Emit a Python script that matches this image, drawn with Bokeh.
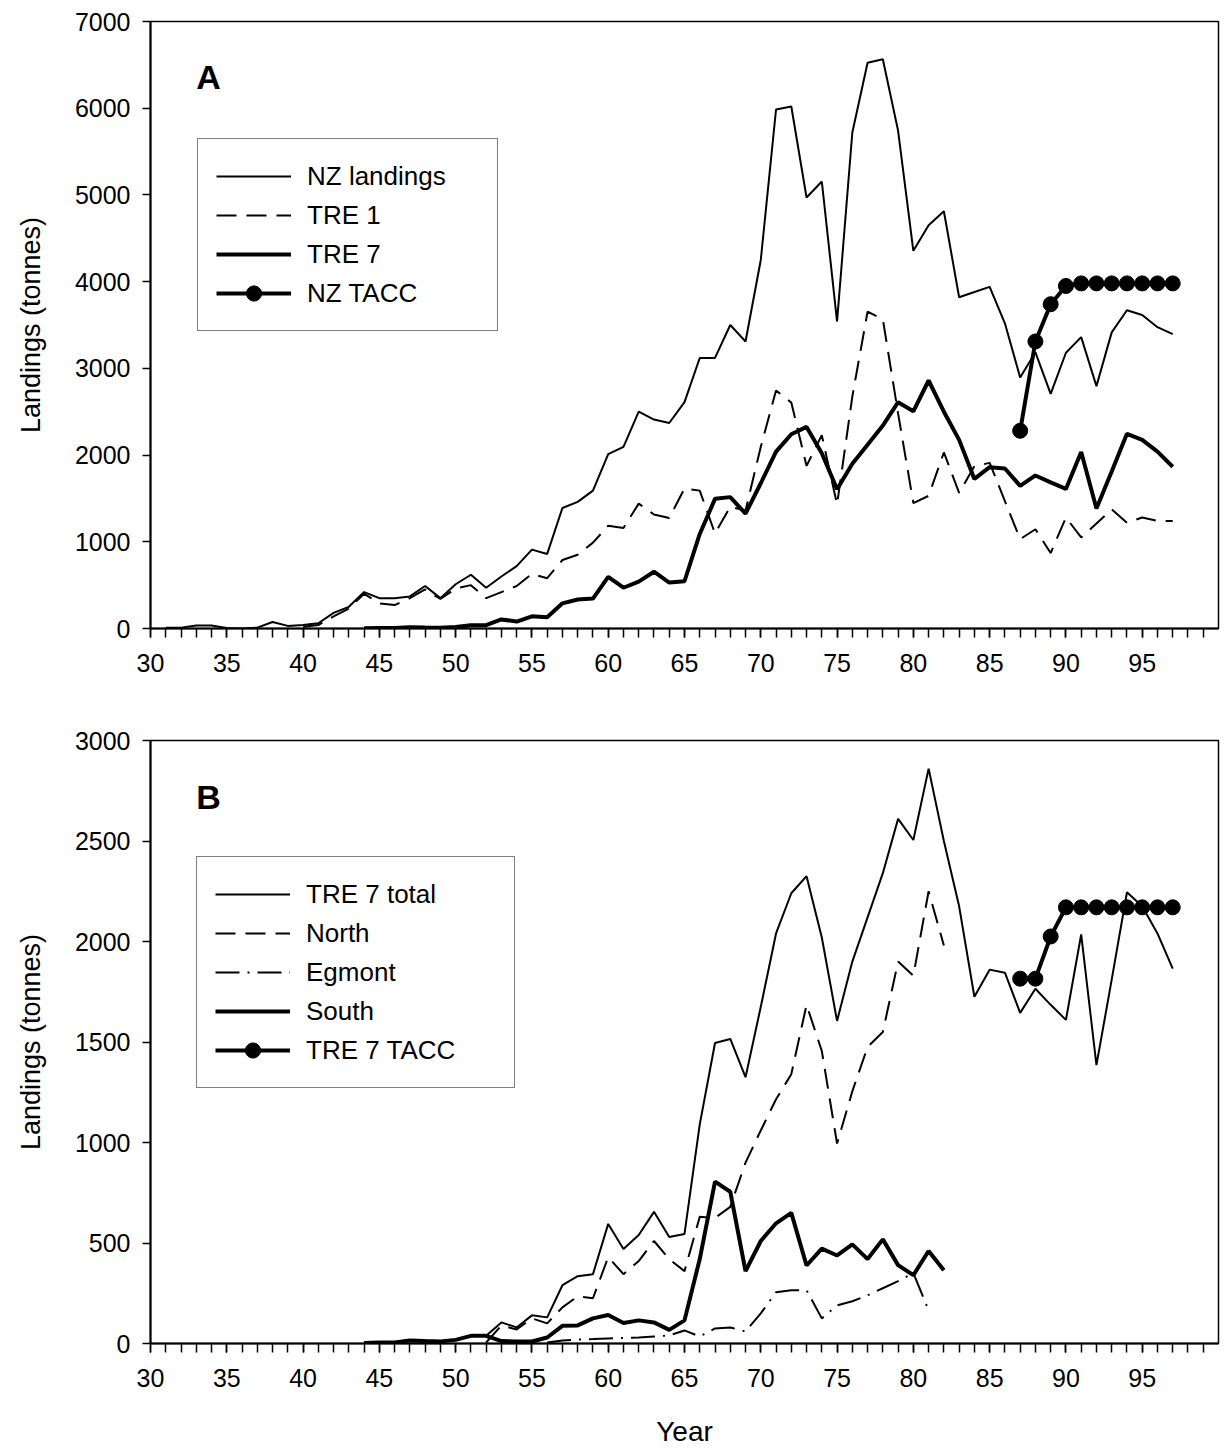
from bokeh.plotting import figure
from bokeh.layouts import column
from bokeh.models import FixedTicker, Legend, LegendItem, Label, Range1d
from bokeh.embed import file_html
from bokeh.resources import INLINE

# ---------------- data ----------------
# Panel A
nz_years = list(range(31, 98))
nz_landings = [10, 10, 35, 35, 5, 0, 10, 75, 30, 40,
               60, 180, 250, 420, 350, 350, 370, 490, 350, 510,
               620, 470, 600, 720, 910, 860, 1390, 1460, 1590, 2010,
               2095, 2500, 2410, 2370, 2610, 3120, 3120, 3500, 3310, 4250,
               5985, 6020, 4970, 5155, 3540, 5720, 6525, 6565, 5740, 4355,
               4650, 4812, 3820, 3880, 3940, 3520, 2895, 3185, 2705, 3180,
               3360, 2795, 3415, 3670, 3615, 3475, 3395]

tre1_years = list(range(40, 98))
tre1 = [20, 40, 140, 230, 400, 290, 270, 350, 450, 340,
        460, 500, 350, 420, 490, 630, 580, 790, 850, 990,
        1185, 1160, 1440, 1315, 1275, 1615, 1590, 1095, 1405, 1360,
        2095, 2745, 2605, 1875, 2230, 1430, 2675, 3655, 3565, 2480,
        1445, 1530, 2030, 1565, 1870, 1910, 1470, 1030, 1145, 870,
        1280, 1050, 1210, 1375, 1220, 1280, 1240, 1240]

tre7_years = list(range(44, 98))
tre7_total = [3, 5, 5, 15, 12, 10, 18, 38, 38, 105,
              80, 140, 130, 290, 335, 345, 595, 470, 540, 655,
              530, 545, 1090, 1495, 1515, 1325, 1675, 2040, 2240, 2325,
              2020, 1605, 1900, 2120, 2340, 2610, 2505, 2860, 2500, 2175,
              1725, 1860, 1845, 1645, 1765, 1685, 1610, 2035, 1385, 1810,
              2245, 2175, 2040, 1865]

nz_tacc_years = list(range(87, 98))
nz_tacc = [2280, 3310, 3740, 3950, 3980, 3980, 3980, 3980, 3980, 3980, 3980]

# Panel B
north_years = list(range(52, 83))
north = [5, 90, 70, 125, 100, 180, 235, 225, 430, 345,
         410, 510, 420, 360, 630, 625, 680, 900, 1060, 1215,
         1340, 1685, 1455, 995, 1255, 1475, 1550, 1900, 1830, 2250,
         1980]

egmont_years = list(range(56, 82))
egmont = [5, 15, 20, 22, 25, 28, 30, 35, 40, 65,
          35, 75, 80, 60, 150, 255, 265, 265, 125, 190,
          210, 240, 275, 310, 350, 165]

south_years = list(range(44, 83))
south = [3, 5, 5, 15, 12, 10, 18, 38, 38, 12,
         10, 10, 30, 88, 90, 125, 142, 102, 115, 105,
         68, 115, 420, 805, 755, 360, 510, 598, 650, 388,
         472, 438, 493, 420, 518, 390, 340, 460, 365]

tre7_tacc_years = list(range(87, 98))
tre7_tacc = [1815, 1815, 2025, 2170, 2170, 2170, 2170, 2170, 2170, 2170, 2170]

x_major = list(range(30, 100, 5))
x_minor = list(range(30, 100))
ya_ticks = list(range(0, 7001, 1000))
yb_ticks = list(range(0, 3001, 500))

FONT = "Liberation Sans"


def make_fig(y_max, y_ticks, frame_h, top, bottom):
    p = figure(frame_width=1068, frame_height=frame_h,
               x_range=Range1d(30, 100), y_range=Range1d(0, y_max),
               output_backend="svg", toolbar_location=None,
               min_border_left=150, min_border_right=8,
               min_border_top=top, min_border_bottom=bottom,
               background_fill_color="white", border_fill_color="white")
    p.grid.visible = False
    p.outline_line_color = "black"
    p.outline_line_width = 1.5
    p.outline_line_alpha = 1.0

    xa = p.xaxis[0]
    xa.ticker = FixedTicker(ticks=x_major, minor_ticks=x_minor)
    xa.axis_line_width = 2
    xa.major_tick_in = 0
    xa.major_tick_out = 9
    xa.minor_tick_in = 0
    xa.minor_tick_out = 9
    xa.major_tick_line_width = 1.5
    xa.minor_tick_line_width = 1.5
    xa.major_label_text_font = FONT
    xa.major_label_text_font_size = "25px"
    xa.major_label_text_color = "black"
    xa.major_label_standoff = 16

    ya = p.yaxis[0]
    ya.ticker = FixedTicker(ticks=y_ticks, minor_ticks=[])
    ya.axis_line_width = 2
    ya.major_tick_in = 0
    ya.major_tick_out = 8
    ya.minor_tick_out = 0
    ya.minor_tick_in = 0
    ya.major_tick_line_width = 1.5
    ya.major_label_text_font = FONT
    ya.major_label_text_font_size = "25px"
    ya.major_label_text_color = "black"
    ya.major_label_standoff = 12
    ya.axis_label = "Landings (tonnes)"
    ya.axis_label_text_font = FONT
    ya.axis_label_text_font_size = "27px"
    ya.axis_label_text_font_style = "normal"
    ya.axis_label_text_color = "black"
    ya.axis_label_standoff = 26
    return p


def style_legend(leg, label_w):
    leg.border_line_color = "black"
    leg.border_line_width = 1.5
    leg.background_fill_color = "white"
    leg.background_fill_alpha = 1.0
    leg.padding = 18
    leg.spacing = 1
    leg.margin = 0
    leg.label_height = 38
    leg.glyph_height = 38
    leg.glyph_width = 75
    leg.label_width = label_w
    leg.label_standoff = 16
    leg.label_text_font = FONT
    leg.label_text_font_size = "26px"
    leg.label_text_color = "black"


# ---------------- Panel A ----------------
pA = make_fig(7000, ya_ticks, 607, 21, 52)
rA1 = pA.line(nz_years, nz_landings, line_color="black", line_width=2)
rA2 = pA.line(tre1_years, tre1, line_color="black", line_width=2, line_dash="20 10")
rA3 = pA.line(tre7_years, tre7_total, line_color="black", line_width=4)
rA4 = pA.line(nz_tacc_years, nz_tacc, line_color="black", line_width=4)
rA5 = pA.scatter(nz_tacc_years, nz_tacc, marker="circle", size=15,
                 fill_color="black", line_color="black")
legA = Legend(items=[
    LegendItem(label="NZ landings", renderers=[rA1]),
    LegendItem(label="TRE 1", renderers=[rA2]),
    LegendItem(label="TRE 7", renderers=[rA3]),
    LegendItem(label="NZ TACC", renderers=[rA4, rA5]),
], location=(47, 297))
style_legend(legA, 172)
pA.add_layout(legA)
pA.add_layout(Label(x=33.0, y=6355, text="A", text_font=FONT, text_font_size="34px",
                    text_font_style="bold", text_color="black", text_baseline="alphabetic"))

# ---------------- Panel B ----------------
pB = make_fig(3000, yb_ticks, 603, 60, 108)
rB1 = pB.line(tre7_years, tre7_total, line_color="black", line_width=2)
rB2 = pB.line(north_years, north, line_color="black", line_width=2, line_dash="20 10")
rB3 = pB.line(egmont_years, egmont, line_color="black", line_width=2, line_dash="24 8 2 8")
rB4 = pB.line(south_years, south, line_color="black", line_width=4)
rB5 = pB.line(tre7_tacc_years, tre7_tacc, line_color="black", line_width=4)
rB6 = pB.scatter(tre7_tacc_years, tre7_tacc, marker="circle", size=15,
                 fill_color="black", line_color="black")
legB = Legend(items=[
    LegendItem(label="TRE 7 total", renderers=[rB1]),
    LegendItem(label="North", renderers=[rB2]),
    LegendItem(label="Egmont", renderers=[rB3]),
    LegendItem(label="South", renderers=[rB4]),
    LegendItem(label="TRE 7 TACC", renderers=[rB5, rB6]),
], location=(46, 255))
style_legend(legB, 190)
pB.add_layout(legB)
pB.add_layout(Label(x=33.0, y=2720, text="B", text_font=FONT, text_font_size="34px",
                    text_font_style="bold", text_color="black", text_baseline="alphabetic"))
xb = pB.xaxis[0]
xb.axis_label = "Year"
xb.axis_label_text_font = FONT
xb.axis_label_text_font_size = "28px"
xb.axis_label_text_font_style = "normal"
xb.axis_label_text_color = "black"
xb.axis_label_standoff = 26

layout = column(pA, pB, spacing=0)
open("out.html", "w").write(file_html(layout, INLINE))
